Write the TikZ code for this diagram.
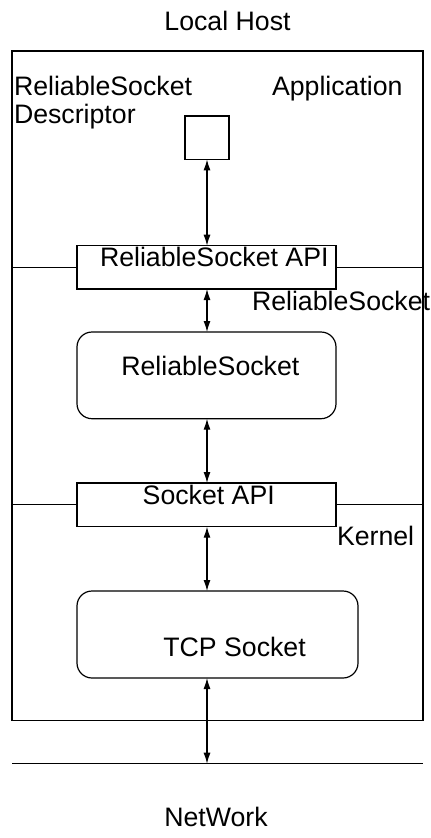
\documentclass[tikz,border=0pt]{standalone}
\usepackage{fontspec}
\setmainfont{Liberation Sans}
\usetikzlibrary{arrows.meta}
\tikzset{
  lbl/.style={font=\fontsize{26.7}{28}\selectfont, inner sep=0pt, outer sep=0pt},
  ln/.style={line width=1.2pt},
  boxrect/.style={draw, line width=1.2pt, rectangle, inner sep=0pt, outer sep=0pt},
  boxround/.style={draw, line width=1.2pt, rectangle, rounded corners=15pt, inner sep=0pt, outer sep=0pt},
  conn/.style={line width=1.2pt, {Latex[length=11pt,width=7pt]}-{Latex[length=11pt,width=7pt]}}
}
\begin{document}
\begin{tikzpicture}[x=1pt,y=-1pt]
\useasboundingbox (0,0) rectangle (431,838);
% outer host box
\node[boxrect, minimum width=411pt, minimum height=669.7pt] (host) at (217.5,385.85) {};
% boxes
\node[boxrect, minimum width=44pt, minimum height=43.3pt] (desc) at (207,137.7) {};
\node[boxrect, minimum width=259pt, minimum height=43.3pt] (rsapi) at (206.5,267.35) {};
\node[boxround, minimum width=259pt, minimum height=86.7pt] (rs) at (206.5,375.35) {};
\node[boxrect, minimum width=259pt, minimum height=43.7pt] (sapi) at (206.5,504.85) {};
\node[boxround, minimum width=281pt, minimum height=87pt] (tcp) at (217.5,634.5) {};
% layer separators
\draw[ln] (host.west |- rsapi.west) -- (rsapi.west);
\draw[ln] (rsapi.east) -- (host.east |- rsapi.east);
\draw[ln] (host.west |- sapi.west) -- (sapi.west);
\draw[ln] (sapi.east) -- (host.east |- sapi.east);
% network line
\coordinate (netL) at (12,763.7);
\coordinate (netR) at (423,763.7);
\coordinate (net) at (207,763.7);
\draw[ln] (netL) -- (netR);
% connectors
\draw[conn] (desc.south) -- (rsapi.north -| desc.south);
\draw[conn] (rsapi.south -| desc.south) -- (rs.north -| desc.south);
\draw[conn] (rs.south -| desc.south) -- (sapi.north -| desc.south);
\draw[conn] (sapi.south -| desc.south) -- (tcp.north -| desc.south);
\draw[conn] (tcp.south -| desc.south) -- (net);
% labels
\node[lbl, anchor=base] (lhost) at (227.5,30) {Local Host};
\node[lbl, anchor=base] (network) at (216,826.7) {NetWork};
\node[lbl, anchor=base west] (rsd1) at (14,95) {ReliableSocket};
\node[lbl, anchor=base west] (rsd2) at (14,123.3) {Descriptor};
\node[lbl, anchor=base west] (app) at (272,95) {Application};
\node[lbl, anchor=base west] (rsapit) at (100,266.7) {ReliableSocket API};
\node[lbl, anchor=base west] (rslayer) at (252,310) {ReliableSocket};
\node[lbl, anchor=base west] (rst) at (121.3,375) {ReliableSocket};
\node[lbl, anchor=base west] (sapit) at (142.7,504) {Socket API};
\node[lbl, anchor=base west] (kernel) at (337,545) {Kernel};
\node[lbl, anchor=base west] (tcpt) at (163.3,656) {TCP Socket};
\end{tikzpicture}
\end{document}
